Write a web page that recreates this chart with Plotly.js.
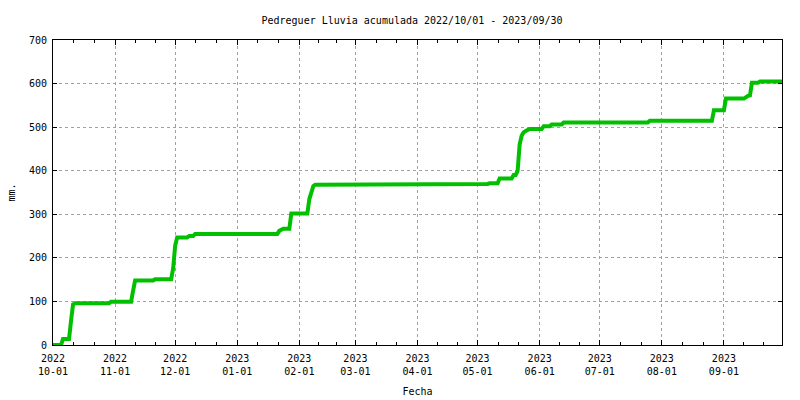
<!DOCTYPE html>
<html>
<head>
<meta charset="utf-8">
<script src="https://cdn.plot.ly/plotly-3.0.1.min.js"></script>
<style>html,body{margin:0;padding:0;background:#fff;}#chart{width:800px;height:400px;}</style>
</head>
<body>
<div id="chart"></div>
<script>
// Cumulative rainfall (mm) at breakpoints
const dates = [
  '2022-10-01','2022-10-05','2022-10-06','2022-10-09','2022-10-10','2022-10-11','2022-10-12',
  '2022-10-29','2022-10-30','2022-11-09','2022-11-10','2022-11-11','2022-11-20','2022-11-21',
  '2022-11-29','2022-11-30','2022-12-01','2022-12-02','2022-12-07','2022-12-08','2022-12-10',
  '2022-12-11','2023-01-21','2023-01-22','2023-01-24','2023-01-27','2023-01-28','2023-02-05',
  '2023-02-06','2023-02-07','2023-02-08','2023-02-09','2023-02-18','2023-02-19','2023-05-06',
  '2023-05-07','2023-05-11','2023-05-12','2023-05-18','2023-05-19','2023-05-20','2023-05-21',
  '2023-05-22','2023-05-23','2023-05-24','2023-05-25','2023-05-27','2023-06-02','2023-06-03',
  '2023-06-06','2023-06-07','2023-06-12','2023-06-13','2023-07-25','2023-07-26','2023-08-26',
  '2023-08-27','2023-09-01','2023-09-02','2023-09-11','2023-09-12','2023-09-13','2023-09-14',
  '2023-09-15','2023-09-18','2023-09-19','2023-09-30'
];
const rain = [
  0, 0, 14, 14, 55, 93, 96,
  96, 99.5, 99.5, 125, 148, 148, 151,
  151, 176, 228, 247, 247, 250, 250,
  255, 255, 262, 267, 267, 302, 302,
  335, 352, 365, 368, 368, 369.5, 369.5,
  371, 371, 382, 382, 390, 390, 400,
  460, 480, 488, 491, 496, 496, 502,
  502, 506, 506, 510.5, 510.5, 514.5, 514.5,
  539, 539, 565.5, 565.5, 570, 572, 573,
  602, 602, 604.5, 604.5
];

// Axis ticks and labels
const monthTicks = ['2022-10-01','2022-11-01','2022-12-01','2023-01-01','2023-02-01','2023-03-01',
  '2023-04-01','2023-05-01','2023-06-01','2023-07-01','2023-08-01','2023-09-01'];
const monthLabels = ['2022<br>10-01','2022<br>11-01','2022<br>12-01','2023<br>01-01','2023<br>02-01',
  '2023<br>03-01','2023<br>04-01','2023<br>05-01','2023<br>06-01','2023<br>07-01','2023<br>08-01','2023<br>09-01'];
const yTicks = [0, 100, 200, 300, 400, 500, 600, 700];
const yLabels = ['0', '100', '200', '300', '400', '500', '600', '700'];
const xRange = ['2022-10-01', '2023-09-30'];
const titleText = 'Pedreguer Lluvia acumulada 2022/10/01 - 2023/09/30';

// minor ticks at thirds of each month
const monthBounds = monthTicks.concat(['2023-10-01']);
const minorTicks = [];
for (let i = 0; i < monthBounds.length - 1; i++) {
  const s = Date.parse(monthBounds[i] + 'T00:00:00Z');
  const e = Date.parse(monthBounds[i + 1] + 'T00:00:00Z');
  for (const f of [1/3, 2/3]) {
    const t = s + (e - s) * f;
    if (t < Date.parse(xRange[1] + 'T00:00:00Z')) minorTicks.push(new Date(t).toISOString().replace('T', ' ').slice(0, 19));
  }
}

const font = {family: '"DejaVu Sans Mono", "Liberation Mono", monospace', size: 10, color: '#000'};

const trace = {
  x: dates, y: rain, type: 'scatter', mode: 'lines',
  line: {color: '#00c000', width: 4},
  hoverinfo: 'skip'
};

const layout = {
  width: 800, height: 400,
  margin: {l: 53, r: 18, t: 40, b: 55},
  paper_bgcolor: '#fff', plot_bgcolor: '#fff',
  font: font,
  showlegend: false,
  title: {text: titleText, font: font, x: 0.515, xref: 'container', xanchor: 'center', y: 0.95, yref: 'container', yanchor: 'middle'},
  xaxis: {
    type: 'date', range: xRange,
    tickmode: 'array', tickvals: monthTicks, ticktext: monthLabels,
    ticks: 'inside', ticklen: 5, tickcolor: '#000', tickwidth: 1,
    ticklabelstandoff: 4,
    showline: true, linecolor: '#000', linewidth: 1, mirror: 'ticks',
    showgrid: true, gridcolor: '#a0a0a0', griddash: '3px,3px', gridwidth: 1,
    zeroline: false,
    minor: {tickmode: 'array', tickvals: minorTicks, ticks: 'inside', ticklen: 3, tickcolor: '#000', showgrid: false},
    tickfont: font,
    title: {text: 'Fecha', font: font, standoff: 11}
  },
  yaxis: {
    range: [0, 700],
    tickmode: 'array', tickvals: yTicks, ticktext: yLabels,
    ticks: 'inside', ticklen: 4, tickcolor: '#000', tickwidth: 1,
    ticklabelstandoff: 3,
    showline: true, linecolor: '#000', linewidth: 1, mirror: 'ticks',
    showgrid: true, gridcolor: '#a0a0a0', griddash: '3px,3px', gridwidth: 1,
    zeroline: false,
    tickfont: font,
    title: {text: 'mm.', font: font, standoff: 11}
  }
};

Plotly.newPlot('chart', [trace], layout, {staticPlot: true, displayModeBar: false});
</script>
</body>
</html>
